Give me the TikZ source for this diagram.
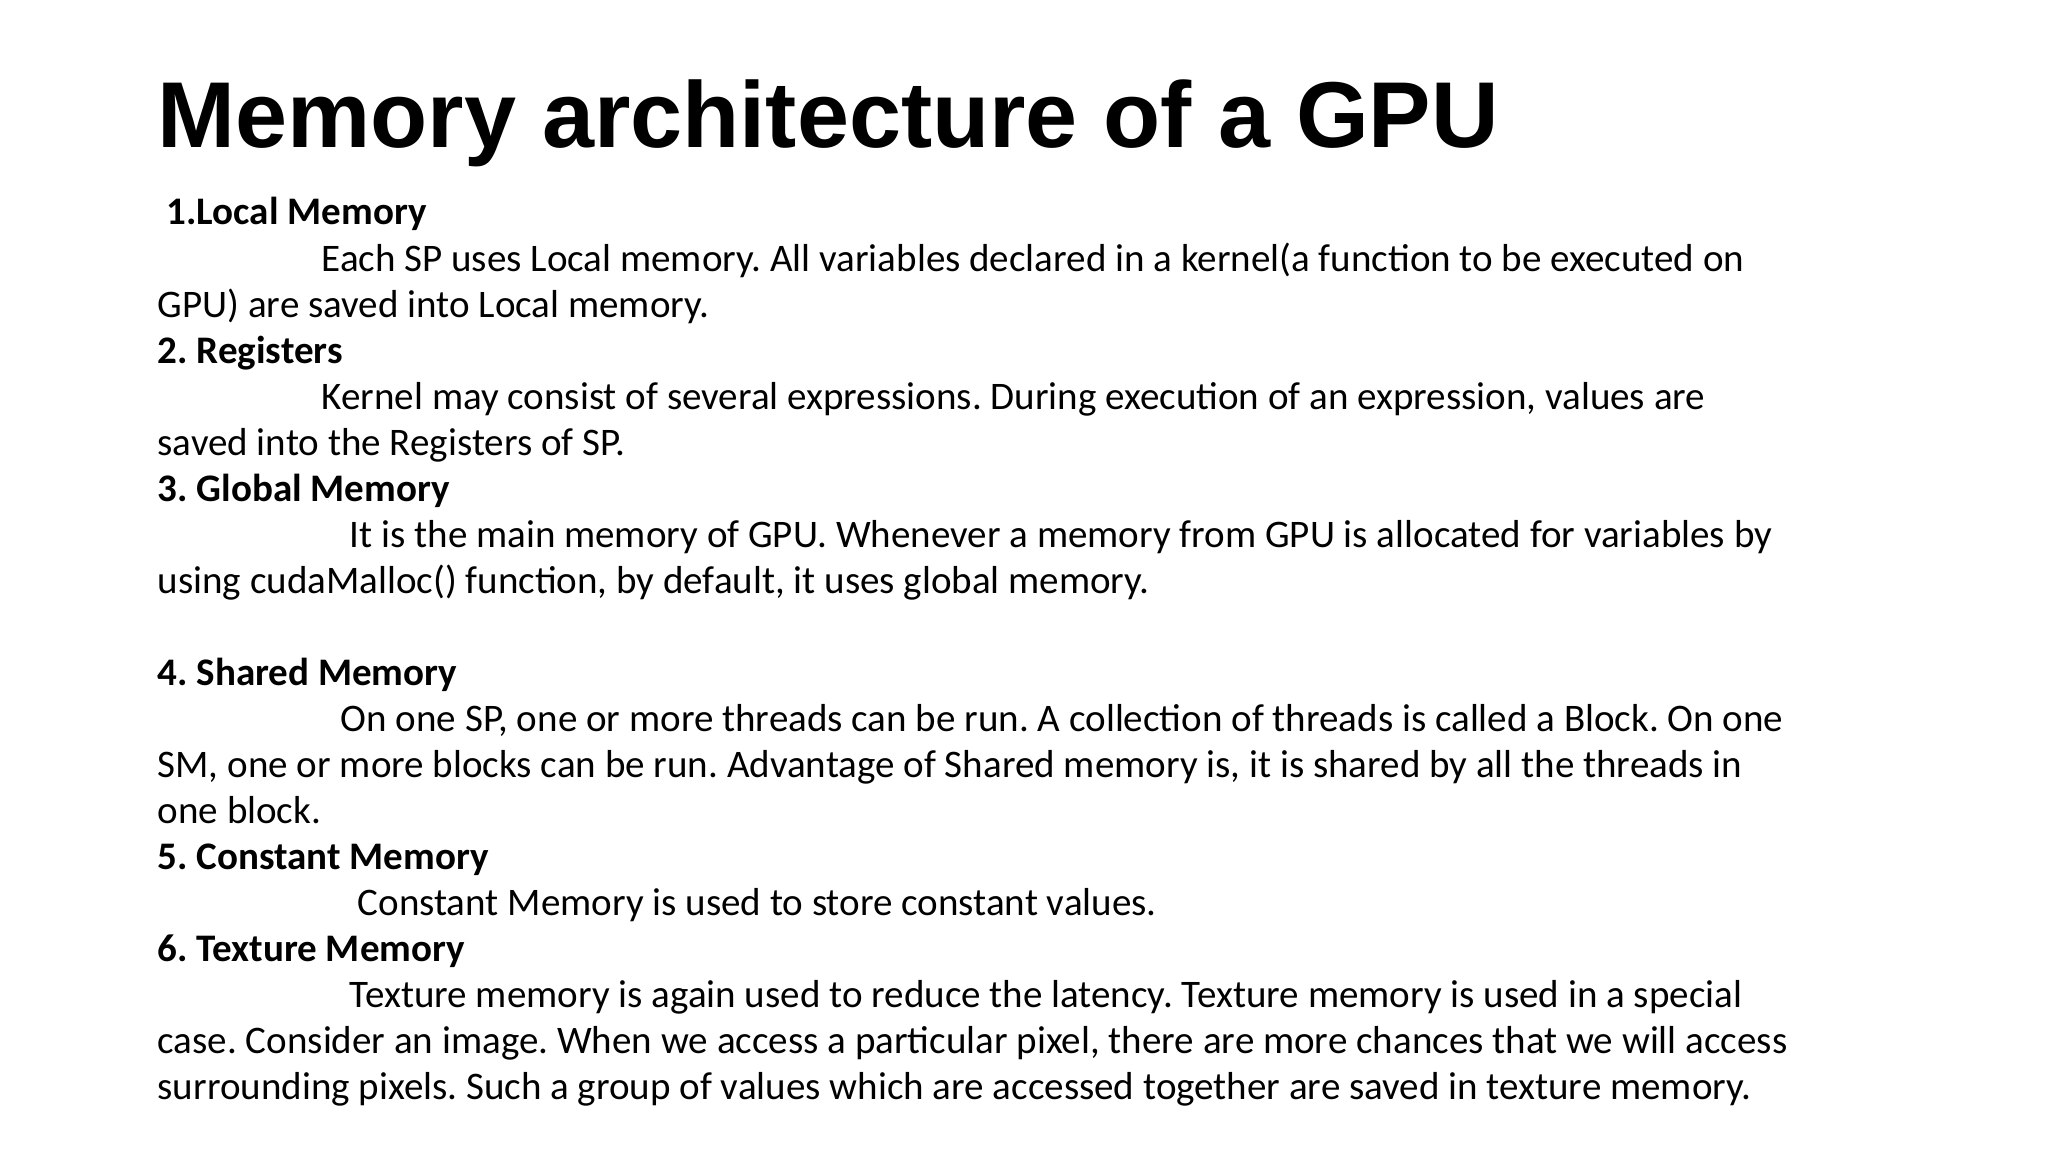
\documentclass[tikz,border=0pt]{standalone}
\usepackage{fontspec}
\setmainfont{Carlito}
\newfontfamily\titlefont{Liberation Sans}
\begin{document}
\frenchspacing
\begin{tikzpicture}[x=0.01cm,y=-0.01cm,
  ln/.style={anchor=base west,inner sep=0pt,font=\fontsize{0.39cm}{0.46cm}\selectfont},
  hd/.style={ln,font=\fontsize{0.39cm}{0.46cm}\selectfont\bfseries}]
\useasboundingbox[fill=white] (0,0) rectangle (2048,1152);
\node[anchor=base west,inner sep=0pt,font=\fontsize{0.935cm}{1.1cm}\selectfont\titlefont\bfseries] (title) at (157,148) {Memory architecture of a GPU};
\def\b{225}\def\s{46.05}
\node[hd] (h1) at (166,\b) {1.Local Memory};
\node[ln] (l2) at (321,\b+\s) {Each SP uses Local memory. All variables declared in a kernel(a function to be executed on};
\node[ln] (l3) at (157,\b+2*\s) {GPU) are saved into Local memory.};
\node[hd] (h2) at (157,\b+3*\s) {2. Registers};
\node[ln] (l5) at (321,\b+4*\s) {Kernel may consist of several expressions. During execution of an expression, values are};
\node[ln] (l6) at (157,\b+5*\s) {saved into the Registers of SP.};
\node[hd] (h3) at (157,\b+6*\s) {3. Global Memory};
\node[ln] (l8) at (349,\b+7*\s) {It is the main memory of GPU. Whenever a memory from GPU is allocated for variables by};
\node[ln] (l9) at (157,\b+8*\s) {using cudaMalloc() function, by default, it uses global memory.};
\node[hd] (h4) at (157,\b+10*\s) {4. Shared Memory};
\node[ln] (l12) at (340,\b+11*\s) {On one SP, one or more threads can be run. A collection of threads is called a Block. On one};
\node[ln] (l13) at (157,\b+12*\s) {SM, one or more blocks can be run. Advantage of Shared memory is, it is shared by all the threads in};
\node[ln] (l14) at (157,\b+13*\s) {one block.};
\node[hd] (h5) at (157,\b+14*\s) {5. Constant Memory};
\node[ln] (l16) at (357,\b+15*\s) {Constant Memory is used to store constant values.};
\node[hd] (h6) at (157,\b+16*\s) {6. Texture Memory};
\node[ln] (l18) at (349,\b+17*\s) {Texture memory is again used to reduce the latency. Texture memory is used in a special};
\node[ln] (l19) at (157,\b+18*\s) {case. Consider an image. When we access a particular pixel, there are more chances that we will access};
\node[ln] (l20) at (157,\b+19*\s) {surrounding pixels. Such a group of values which are accessed together are saved in texture memory.};
\end{tikzpicture}
\end{document}
